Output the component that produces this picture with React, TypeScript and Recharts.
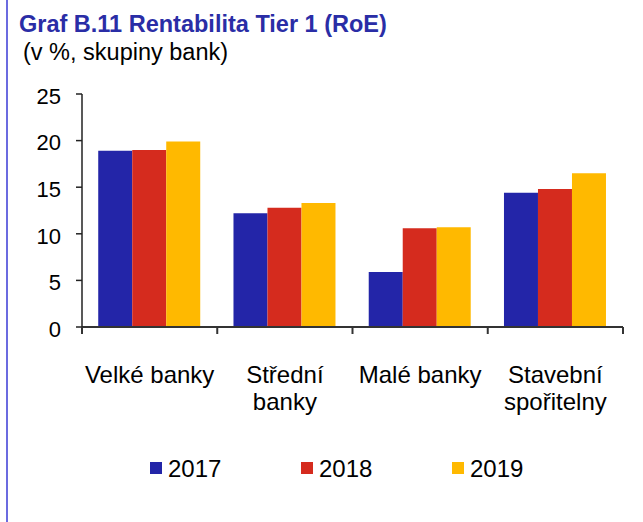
import React from "react";
import { BarChart, Bar, XAxis, YAxis } from "recharts";

const categories = ["Velké banky", "Střední banky", "Malé banky", "Stavební spořitelny"];
const categoryLines = [["Velké banky"], ["Střední", "banky"], ["Malé banky"], ["Stavební", "spořitelny"]];
const values2017 = [18.9, 12.2, 5.9, 14.4];
const values2018 = [19.0, 12.8, 10.6, 14.8];
const values2019 = [19.9, 13.3, 10.7, 16.5];
const seriesKeys = ["y2017", "y2018", "y2019"];
const seriesNames = ["2017", "2018", "2019"];
const seriesColors = ["#2325A8", "#D52B1E", "#FFB900"];
const yTicks = [0, 5, 10, 15, 20, 25];

const titleText = "Graf B.11 Rentabilita Tier 1 (RoE)";
const subtitleText = "(v %, skupiny bank)";

const data = categories.map((c, i) => ({
  category: c,
  y2017: values2017[i],
  y2018: values2018[i],
  y2019: values2019[i],
}));

const FONT = "'Liberation Sans', Arial, sans-serif";
const AXIS_COLOR = "#333";
const X_TICK_SIZE = 6;
const X_TICK_MARGIN = 2;

const CategoryTick = (props: any) => {
  const { x, y, index, width, visibleTicksCount } = props;
  const lines = categoryLines[index] || [props.payload?.value];
  const half = width / visibleTicksCount / 2;
  const axisY = y - X_TICK_SIZE - X_TICK_MARGIN;
  const edges = [x - half];
  if (index === visibleTicksCount - 1) edges.push(x + half);
  return (
    <g>
      {edges.map((ex, i) => (
        <line
          key={i}
          x1={ex}
          x2={ex}
          y1={axisY}
          y2={axisY + 7}
          stroke={AXIS_COLOR}
          strokeWidth={2}
        />
      ))}
      <text textAnchor="middle" fontFamily={FONT} fontSize={24} fill="#000">
        {lines.map((l: string, i: number) => (
          <tspan key={i} x={x} y={y + 48 + i * 27}>
            {l}
          </tspan>
        ))}
      </text>
    </g>
  );
};

export default function App() {
  return (
    <div
      style={{
        position: "absolute",
        left: 0,
        top: 0,
        width: 643,
        height: 522,
        background: "#fff",
        fontFamily: FONT,
        overflow: "hidden",
      }}
    >
      <div style={{ position: "absolute", left: 6, top: 0, width: 2, height: 522, background: "#6B6BE0" }} />
      <div
        style={{
          position: "absolute",
          left: 19,
          top: 12.5,
          fontSize: 23.5,
          lineHeight: "23px",
          fontWeight: "bold",
          color: "#2A2DA6",
          whiteSpace: "nowrap",
        }}
      >
        {titleText}
      </div>
      <div
        style={{
          position: "absolute",
          left: 23,
          top: 40.5,
          fontSize: 23.5,
          lineHeight: "23px",
          color: "#000",
          whiteSpace: "nowrap",
        }}
      >
        {subtitleText}
      </div>
      <div style={{ position: "absolute", left: 0, top: 0 }}>
        <BarChart
          width={643}
          height={522}
          data={data}
          margin={{ top: 94, right: 20, bottom: 105, left: 0 }}
          barCategoryGap="12%"
          barGap={0}
        >
          <XAxis
            dataKey="category"
            type="category"
            axisLine={{ stroke: AXIS_COLOR, strokeWidth: 2 }}
            tickLine={false}
            tickSize={X_TICK_SIZE}
            tickMargin={X_TICK_MARGIN}
            height={90}
            interval={0}
            tick={<CategoryTick />}
          />
          <YAxis
            domain={[0, 25]}
            ticks={yTicks}
            width={82}
            tickSize={6}
            tickMargin={15}
            interval={0}
            axisLine={{ stroke: "#222", strokeWidth: 1.5 }}
            tickLine={{ stroke: "#222", strokeWidth: 1.5 }}
            tick={{ fill: "#000", fontSize: 22, fontFamily: FONT, dy: 2 }}
          />
          {seriesKeys.map((k, i) => (
            <Bar
              key={k}
              dataKey={k}
              name={seriesNames[i]}
              fill={seriesColors[i]}
              isAnimationActive={false}
            />
          ))}
        </BarChart>
      </div>
      <div style={{ position: "absolute", left: 150, top: 456.5, display: "flex" }}>
        {seriesNames.map((n, i) => (
          <div key={n} style={{ width: 151, display: "flex", alignItems: "center" }}>
            <div style={{ width: 12, height: 12, background: seriesColors[i], marginRight: 6 }} />
            <span style={{ fontSize: 24, lineHeight: "23px", color: "#000" }}>{n}</span>
          </div>
        ))}
      </div>
    </div>
  );
}
